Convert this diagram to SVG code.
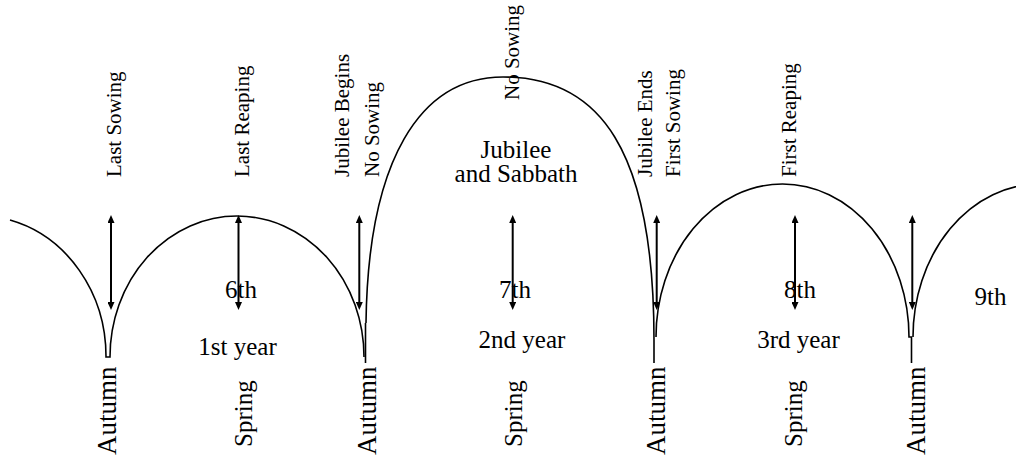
<svg xmlns="http://www.w3.org/2000/svg" width="1016" height="456" viewBox="0 0 1016 456">
<style>
  text { font-family: "Liberation Serif", "Times New Roman", serif; fill: #000; }
  .top { font-size: 21px; }
  .mid { font-size: 25px; text-anchor: middle; }
  .aut { font-size: 27px; }
  .spr { font-size: 25px; }
  .curve { fill: none; stroke: #000; stroke-width: 1.6; }
  .arr { stroke: #000; stroke-width: 2; marker-start: url(#ah); marker-end: url(#ah); }
</style>
<defs>
  <marker id="ah" viewBox="0 0 8 7" refX="2" refY="3.5" markerWidth="8" markerHeight="7" markerUnits="userSpaceOnUse" orient="auto-start-reverse">
    <path d="M0,0 L8,3.5 L0,7 z" fill="#000"/>
  </marker>
</defs>
<rect width="1016" height="456" fill="#fff"/>

<g id="curve">
  <path class="curve" d="M10,220 A128,141 0 0,1 106,357 L110,357 A127,141 0 0,1 364,357"/>
  <path class="curve" d="M365.5,323 L365.5,363"/>
  <path class="curve" d="M366,323 C368,160 420,77 503,77 C600,77 654,150 654,340 L654,363"/>
  <path class="curve" d="M656,337 A126.5,153 0 0,1 909,337 L911.5,337 L911.5,363"/>
  <path class="curve" d="M913,337 A126.5,153 0 0,1 1166,337"/>
</g>

<g id="connectors">
  <line class="arr" x1="111" y1="221" x2="111" y2="304"/>
  <line class="arr" x1="238.5" y1="221" x2="238.5" y2="304"/>
  <line class="arr" x1="359.3" y1="221" x2="359.3" y2="304"/>
  <line class="arr" x1="512.7" y1="221" x2="512.7" y2="304"/>
  <line class="arr" x1="656.7" y1="221" x2="656.7" y2="304"/>
  <line class="arr" x1="795" y1="221" x2="795" y2="304"/>
  <line class="arr" x1="912.3" y1="221" x2="912.3" y2="304"/>
</g>

<g id="top-labels">
  <text class="top" transform="translate(121,177) rotate(-90)">Last Sowing</text>
  <text class="top" transform="translate(249,177) rotate(-90)">Last Reaping</text>
  <text class="top" transform="translate(349,177) rotate(-90)">Jubilee Begins</text>
  <text class="top" transform="translate(379,177) rotate(-90)">No Sowing</text>
  <text class="top" transform="translate(519,100) rotate(-90)">No Sowing</text>
  <text class="top" transform="translate(652,177) rotate(-90)">Jubilee Ends</text>
  <text class="top" transform="translate(680,177) rotate(-90)">First Sowing</text>
  <text class="top" transform="translate(796,177) rotate(-90)">First Reaping</text>
</g>

<g id="jubilee-label">
  <text class="mid" x="516" y="157.5">Jubilee</text>
  <text class="mid" x="516" y="182">and Sabbath</text>
</g>

<g id="year-labels">
  <text class="mid" x="241" y="298">6th</text>
  <text class="mid" x="515" y="298">7th</text>
  <text class="mid" x="800" y="298">8th</text>
  <text class="mid" x="990.5" y="305">9th</text>
  <text class="mid" x="237.5" y="355">1st year</text>
  <text class="mid" x="522" y="348">2nd year</text>
  <text class="mid" x="798.5" y="348">3rd year</text>
</g>

<g id="season-labels">
  <text class="aut" transform="translate(116,455) rotate(-90)">Autumn</text>
  <text class="spr" transform="translate(251.5,447) rotate(-90)">Spring</text>
  <text class="aut" transform="translate(375.5,455) rotate(-90)">Autumn</text>
  <text class="spr" transform="translate(521.5,447) rotate(-90)">Spring</text>
  <text class="aut" transform="translate(665,455) rotate(-90)">Autumn</text>
  <text class="spr" transform="translate(801.5,447) rotate(-90)">Spring</text>
  <text class="aut" transform="translate(924.5,455) rotate(-90)">Autumn</text>
</g>
</svg>
